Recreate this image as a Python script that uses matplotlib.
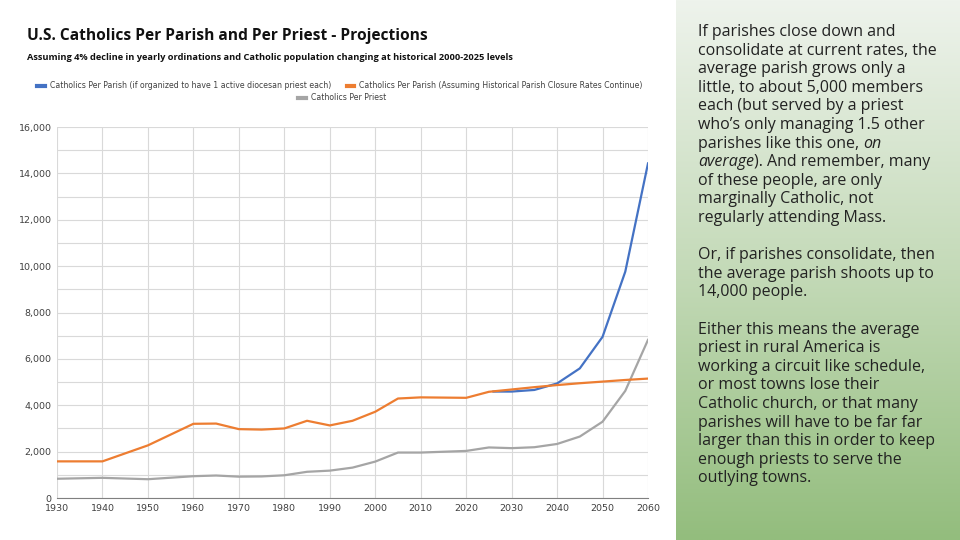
import matplotlib.pyplot as plt
import numpy as np
from matplotlib.colors import LinearSegmentedColormap

years = [1930, 1940, 1950, 1960, 1965, 1970, 1975, 1980, 1985, 1990, 1995,
         2000, 2005, 2010, 2020, 2025, 2030, 2035, 2040, 2045, 2050, 2055, 2060]
per_parish_closure = [1580, 1580, 2270, 3200, 3210, 2970, 2950, 3000, 3330, 3130, 3330,
                      3720, 4290, 4340, 4320, 4580, 4680, 4780, 4870, 4950, 5020, 5090, 5150]
per_priest = [830, 870, 810, 940, 970, 920, 930, 980, 1130, 1180, 1310,
              1570, 1960, 1960, 2030, 2180, 2150, 2190, 2330, 2650, 3290, 4620, 6820]
blue_years = [2026, 2030, 2035, 2040, 2045, 2050, 2055, 2060]
per_parish_one_priest = [4590, 4590, 4660, 4940, 5590, 6950, 9760, 14430]

labels = ["Catholics Per Parish (if organized to have 1 active diocesan priest each)",
          "Catholics Per Parish (Assuming Historical Parish Closure Rates Continue)",
          "Catholics Per Priest"]

side_text = [
    "If parishes close down and",
    "consolidate at current rates, the",
    "average parish grows only a",
    "little, to about 5,000 members",
    "each (but served by a priest",
    "who\u2019s only managing 1.5 other",
    ("parishes like this one, ", "on", ""),
    ("", "average", "). And remember, many"),
    "of these people, are only",
    "marginally Catholic, not",
    "regularly attending Mass.",
    "",
    "Or, if parishes consolidate, then",
    "the average parish shoots up to",
    "14,000 people.",
    "",
    "Either this means the average",
    "priest in rural America is",
    "working a circuit like schedule,",
    "or most towns lose their",
    "Catholic church, or that many",
    "parishes will have to be far far",
    "larger than this in order to keep",
    "enough priests to serve the",
    "outlying towns.",
]

W, H = 960, 540
fig = plt.figure(figsize=(9.6, 5.4), dpi=100)
fig.patch.set_facecolor("white")

# green gradient side panel
bg = fig.add_axes([676 / W, 0, 284 / W, 1])
cmap = LinearSegmentedColormap.from_list("g", ["#eef3ec", "#c4dab8", "#93bd7d"])
bg.imshow(np.linspace(0, 1, 256).reshape(-1, 1), aspect="auto", cmap=cmap,
          extent=[0, 1, 0, 1], origin="upper")
bg.set_axis_off()

# main chart
ax = fig.add_axes([57 / W, 1 - 498 / H, (648 - 57) / W, (498 - 127) / H])
ax.plot(blue_years, per_parish_one_priest, color="#4472c4", lw=1.6, zorder=3)
ax.plot(years, per_parish_closure, color="#ed7d31", lw=1.6, zorder=4)
ax.plot(years, per_priest, color="#a5a5a5", lw=1.6, zorder=2)

ax.set_xlim(1930, 2060)
ax.set_ylim(0, 16000)
ax.set_xticks(range(1930, 2061, 10))
ax.set_yticks(range(0, 16001, 2000))
ax.set_yticks(range(1000, 16000, 2000), minor=True)
ax.set_yticklabels([f"{v:,}" for v in range(0, 16001, 2000)])
ax.grid(True, which="both", color="#d9d9d9", lw=0.8)
ax.set_axisbelow(True)
for s in ["top", "right", "left"]:
    ax.spines[s].set_visible(False)
ax.spines["bottom"].set_color("#808080")
ax.tick_params(axis="both", which="both", length=0, labelsize=6.8, colors="#404040")
ax.tick_params(axis="y", pad=4)
ax.tick_params(axis="x", pad=4)

# titles
fig.text(27 / W, 1 - 36 / H, "U.S. Catholics Per Parish and Per Priest - Projections",
         fontsize=11.2, fontweight="bold", family="Open Sans", va="center", color="#111111")
fig.text(27 / W, 1 - 57 / H,
         "Assuming 4% decline in yearly ordinations and Catholic population changing at historical 2000-2025 levels",
         fontsize=6.7, fontweight="bold", family="Open Sans", va="center", color="#111111")

# legend
leg_colors = ["#4472c4", "#ed7d31", "#a5a5a5"]
handles = [plt.Line2D([], [], color=c, lw=3) for c in leg_colors]
fig.legend(handles[:2], labels[:2], loc="center", bbox_to_anchor=(340 / W, 1 - 86 / H),
           ncol=2, frameon=False, fontsize=5.6, handlelength=1.0, handletextpad=0.6,
           columnspacing=2.0, labelcolor="#404040")
fig.legend(handles[2:], labels[2:], loc="center", bbox_to_anchor=(342 / W, 1 - 98 / H),
           frameon=False, fontsize=5.6, handlelength=1.0, handletextpad=0.6,
           labelcolor="#404040")

# side text
fig.canvas.draw()
renderer = fig.canvas.get_renderer()
x0 = 698
y_line = 32
step = 18.6
props = dict(fontsize=11.5, family="Open Sans", va="center", color="#222222")
for line in side_text:
    yf = 1 - y_line / H
    if isinstance(line, tuple):
        x = x0
        for i, part in enumerate(line):
            if not part:
                continue
            style = "italic" if i == 1 else "normal"
            t = fig.text(x / W, yf, part, style=style, **props)
            bb = t.get_window_extent(renderer)
            x += bb.width
    elif line:
        fig.text(x0 / W, yf, line, **props)
    y_line += step

fig.savefig("out.png", dpi=100)
